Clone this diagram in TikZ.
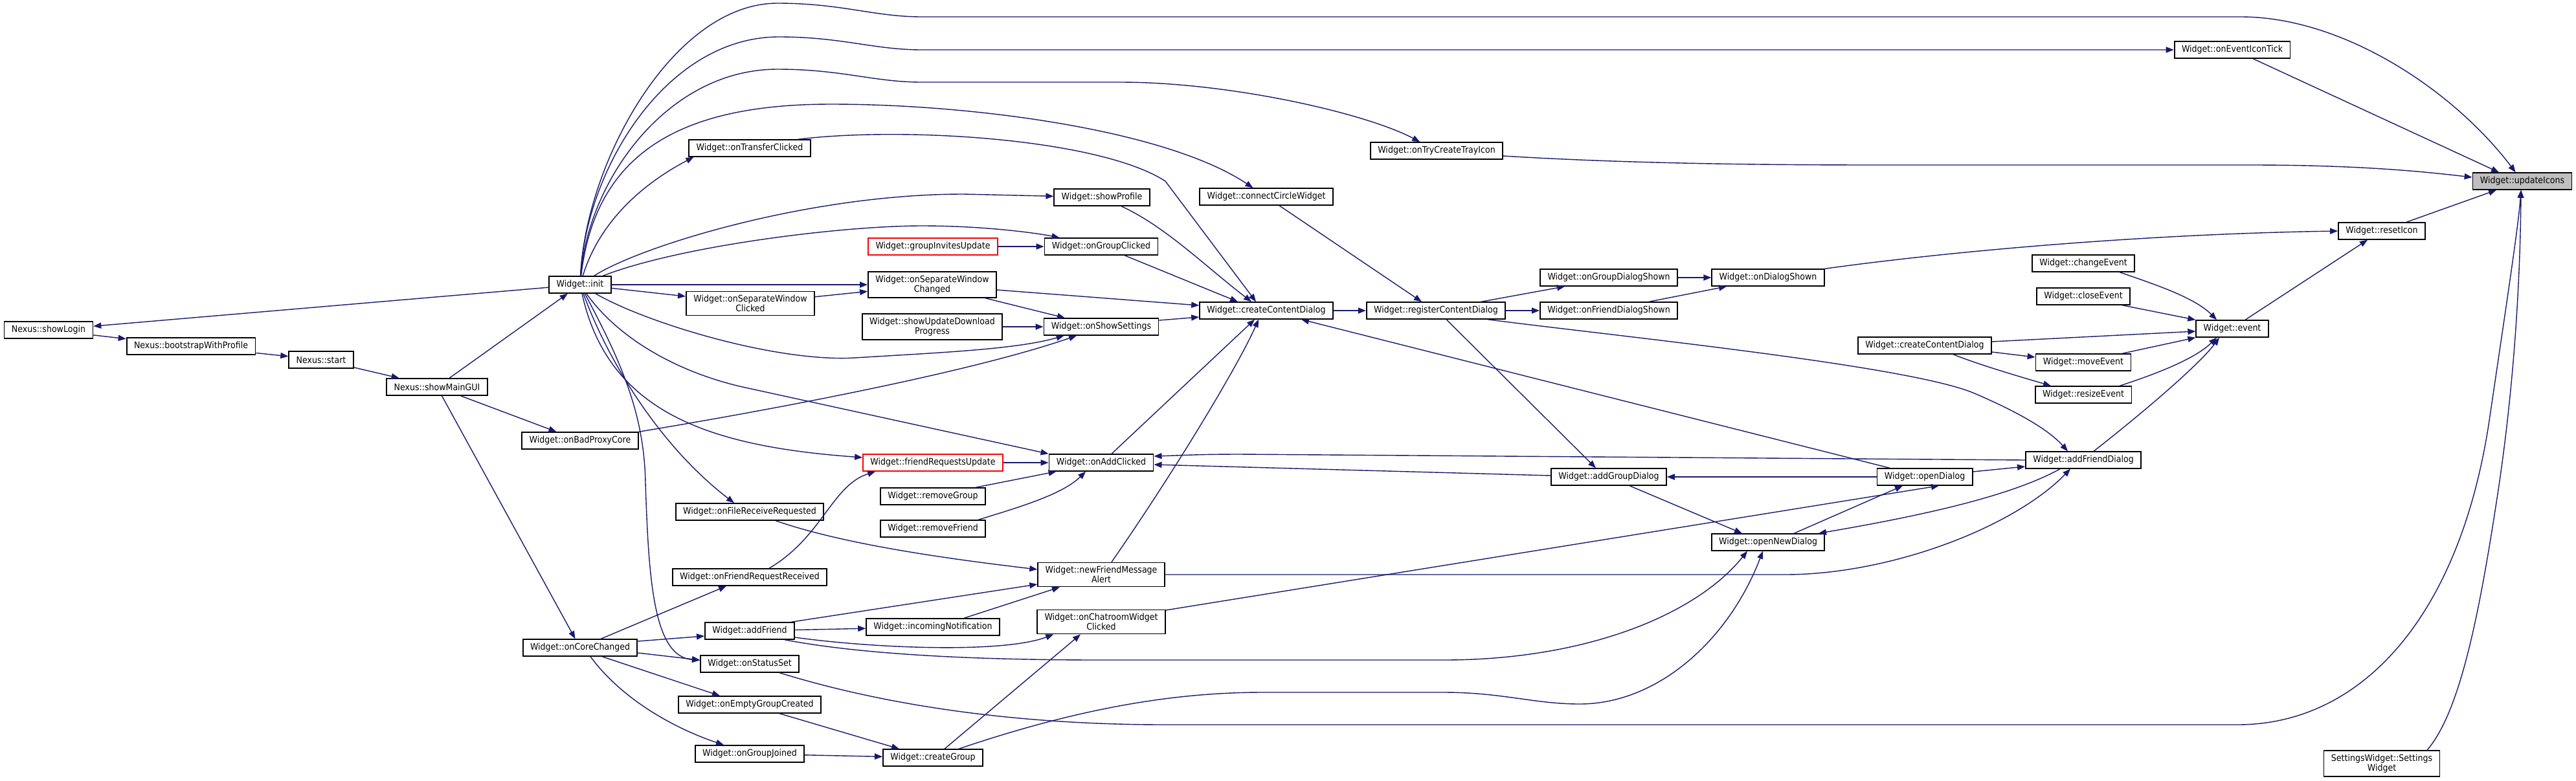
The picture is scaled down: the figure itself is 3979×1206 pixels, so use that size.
\documentclass[tikz,border=0pt]{standalone}
\usepackage{fontspec}
\setmainfont[FakeStretch=0.9]{DejaVu Sans}
\usetikzlibrary{arrows.meta}
\definecolor{edgeblue}{RGB}{25,25,112}
\definecolor{curfill}{RGB}{191,191,191}

\begin{document}
\begin{tikzpicture}[x=0.5pt, y=-0.5pt,
  every node/.style={draw, line width=0.9pt, fill=white, align=center, inner xsep=5.7pt, inner ysep=2.8pt, minimum height=12.8pt, font=\fontsize{7}{7.5}\selectfont},
  call/.style={draw=edgeblue, line width=0.7pt, -{Triangle[length=6pt,width=4.6pt]}}]
\path[use as bounding box, fill=white] (0,0) rectangle (3979,1206);
% --- Nexus chain ---
\node (showLogin) at (75,510) {Nexus::showLogin};
\node (bootstrap) at (295,535) {Nexus::bootstrapWithProfile};
\node (start) at (496,556) {Nexus::start};
\node (showMainGUI) at (675,598) {Nexus::showMainGUI};
% --- Widget, left columns ---
\node (init) at (896,440) {Widget::init};
\node (badProxy) at (896,681) {Widget::onBadProxyCore};
\node (coreChanged) at (896,1001) {Widget::onCoreChanged};
\node (transfer) at (1158,229) {Widget::onTransferClicked};
\node (sepClicked) at (1159,469) {Widget::onSeparateWindow\\Clicked};
\node (fileRecv) at (1158,791) {Widget::onFileReceiveRequested};
\node (friendRecv) at (1158,892) {Widget::onFriendRequestReceived};
\node (addFriend) at (1158,975) {Widget::addFriend};
\node (statusSet) at (1158,1026) {Widget::onStatusSet};
\node (emptyGroup) at (1158,1089) {Widget::onEmptyGroupCreated};
\node (groupJoined) at (1158,1165) {Widget::onGroupJoined};
\node[draw=red] (groupInvites) at (1441,381) {Widget::groupInvitesUpdate}; % red
\node (sepChanged) at (1440,440) {Widget::onSeparateWindow\\Changed};
\node (updDownload) at (1440,505) {Widget::showUpdateDownload\\Progress};
\node[draw=red] (friendUpd) at (1441,715) {Widget::friendRequestsUpdate}; % red
\node (removeGroup) at (1441,767) {Widget::removeGroup};
\node (removeFriend) at (1441,817) {Widget::removeFriend};
\node (incoming) at (1441,969) {Widget::incomingNotification};
\node (createGroup) at (1441,1171) {Widget::createGroup};
\node (showProfile) at (1702,305) {Widget::showProfile};
\node (groupClicked) at (1701,381) {Widget::onGroupClicked};
\node (showSettings) at (1701,505) {Widget::onShowSettings};
\node (addClicked) at (1701,715) {Widget::onAddClicked};
\node (newMsg) at (1701,888) {Widget::newFriendMessage\\Alert};
\node (chatroom) at (1701,961) {Widget::onChatroomWidget\\Clicked};
% --- Widget, right columns ---
\node (connectCircle) at (1956,304) {Widget::connectCircleWidget};
\node (createContent) at (1956,480) {Widget::createContentDialog};
\node (trayIcon) at (2219,233) {Widget::onTryCreateTrayIcon};
\node (registerContent) at (2218,480) {Widget::registerContentDialog};
\node (groupShown) at (2485,429) {Widget::onGroupDialogShown};
\node (friendShown) at (2485,480) {Widget::onFriendDialogShown};
\node (addGroupDlg) at (2485,737) {Widget::addGroupDialog};
\node (dialogShown) at (2731,429) {Widget::onDialogShown};
\node (openNewDlg) at (2731,838) {Widget::openNewDialog};
\node (openDlg) at (2973,737) {Widget::openDialog};
\node (createContent2) at (2973,534) {Widget::createContentDialog};
\node (addFriendDlg) at (3218,711) {Widget::addFriendDialog};
\node (changeEvent) at (3218,407) {Widget::changeEvent};
\node (closeEvent) at (3218,458) {Widget::closeEvent};
\node (moveEvent) at (3218,560) {Widget::moveEvent};
\node (resizeEvent) at (3218,610) {Widget::resizeEvent};
\node (event) at (3448,508) {Widget::event};
\node (iconTick) at (3448,77) {Widget::onEventIconTick};
\node (resetIcon) at (3679,357) {Widget::resetIcon};
\node[fill=curfill] (updateIcons) at (3896,280) {Widget::updateIcons}; % (current)
\node (settingsW) at (3679,1180) {SettingsWidget::Settings\\Widget};
%
% --- Left chain ---
\draw[call] (init)--(showLogin);
\draw[call] (showLogin)--(bootstrap);
\draw[call] (bootstrap)--(start);
\draw[call] (start)--(showMainGUI);
\draw[call] (showMainGUI)--(init);
\draw[call] (showMainGUI)--(badProxy);
\draw[call] (showMainGUI)--(coreChanged);
%
% --- From init ---
\draw[call] (init) .. controls (905,250) and (1040,5) .. (1201,5) .. controls (1300,5) and (1350,26) .. (1424,26)--(3461,26) .. controls (3620,26) and (3790,140) .. (updateIcons);
\draw[call] (init) .. controls (905,260) and (1030,57) .. (1203,57) .. controls (1300,57) and (1350,77) .. (1424,77)--(iconTick);
\draw[call] (init) .. controls (908,280) and (1030,107) .. (1201,107) .. controls (1300,107) and (1350,127) .. (1424,127)--(1730,127) .. controls (1900,127) and (2110,175) .. (trayIcon);
\draw[call] (init) .. controls (920,230) and (1060,161) .. (1284,161) .. controls (1500,161) and (1800,200) .. (connectCircle);
\draw[call] (init) .. controls (930,330) and (1010,275) .. ([xshift=4pt]transfer.south west);
\draw[call] (init) .. controls (990,380) and (1250,300) .. (1488,300)--(showProfile);
\draw[call] (init) .. controls (1050,380) and (1300,349) .. (1424,349) .. controls (1520,349) and (1600,360) .. ([xshift=12pt]groupClicked.north west);
\draw[call] (init)--(sepChanged);
\draw[call] (init)--(sepClicked);
\draw[call] (init) .. controls (1000,500) and (1200,560) .. (1320,553) .. controls (1450,545) and (1570,540) .. ([xshift=16pt]showSettings.south west);
\draw[call] (init) .. controls (960,530) and (1060,580) .. (1156,600)--(addClicked.north west);
\draw[call] (init) .. controls (940,640) and (1100,690) .. (friendUpd);
\draw[call] (init) .. controls (940,560) and (1020,690) .. ([xshift=-12pt]fileRecv.north);
\draw[call] (init) .. controls (960,560) and (995,640) .. (997,746) .. controls (1002,900) and (1010,1015) .. (statusSet);
%
% --- onCoreChanged ---
\draw[call] ([xshift=16pt]coreChanged.north)--([xshift=-18pt]friendRecv.south);
\draw[call] ([yshift=5pt]coreChanged.east)--([yshift=-4pt]addFriend.west);
\draw[call] ([yshift=-4pt]coreChanged.east)--([yshift=3pt]statusSet.west);
\draw[call] ([xshift=17pt]coreChanged.south)--([xshift=-23pt]emptyGroup.north);
\draw[call] ([xshift=8pt]coreChanged.south) .. controls (960,1080) and (1040,1125) .. ([xshift=-20pt]groupJoined.north);
%
% --- Middle ---
\draw[call] ([xshift=-10pt]transfer.north east) .. controls (1400,195) and (1700,215) .. (1800,280)--([xshift=-8pt]createContent.north);
\draw[call] ([xshift=15pt]showProfile.south) .. controls (1800,350) and (1860,410) .. ([xshift=-11.5pt]createContent.north);
\draw[call] ([xshift=18pt]groupClicked.south)--([xshift=-22pt]createContent.north);
\draw[call] (groupInvites)--(groupClicked);
\draw[call] (sepClicked)--(sepChanged);
\draw[call] ([yshift=-4pt]sepChanged.east)--([yshift=4pt]createContent.west);
\draw[call] ([xshift=41pt]sepChanged.south)--([xshift=-28pt]showSettings.north);
\draw[call] (updDownload)--(showSettings);
\draw[call] ([yshift=5pt]showSettings.east)--([yshift=-5pt]createContent.west);
\draw[call] (badProxy.north east) .. controls (1200,632) and (1500,575) .. ([xshift=-19pt]showSettings.south);
\draw[call] ([xshift=20pt]fileRecv.south) .. controls (1300,840) and (1450,862) .. ([yshift=4pt]newMsg.west);
\draw[call] ([xshift=15pt]friendRecv.north) .. controls (1270,830) and (1285,750) .. ([xshift=10pt]friendUpd.south west);
\draw[call] (friendUpd)--(addClicked);
\draw[call] ([xshift=33pt]removeGroup.north)--([xshift=6pt]addClicked.south west);
\draw[call] ([xshift=35pt]removeFriend.north) .. controls (1570,785) and (1640,765) .. ([xshift=-12pt]addClicked.south);
\draw[call] ([xshift=8pt]addClicked.north)--([xshift=-9pt]createContent.south);
\draw[call] ([xshift=8pt]newMsg.north) .. controls (1820,720) and (1915,560) .. ([xshift=-6pt]createContent.south);
\draw[call] ([xshift=-3pt]addFriend.north east)--([yshift=-7.5pt]newMsg.west);
\draw[call] (addFriend)--(incoming);
\draw[call] ([xshift=24pt]incoming.north)--([xshift=-32pt]newMsg.south);
\draw[call] ([yshift=-5pt]addFriend.east) .. controls (1350,1002) and (1550,1010) .. ([xshift=13pt]chatroom.south west);
\draw[call] ([xshift=-8pt]addFriend.south east) .. controls (1350,1015) and (1550,1020) .. (1700,1020)--(2230,1020) .. controls (2450,1020) and (2620,950) .. ([xshift=-16pt]openNewDlg.south);
\draw[call] ([xshift=23pt]emptyGroup.south)--([xshift=-26pt]createGroup.north);
\draw[call] (groupJoined)--(createGroup);
\draw[call] ([xshift=9pt]createGroup.north)--([xshift=-16pt]chatroom.south);
\draw[call] ([xshift=20pt]createGroup.north) .. controls (1650,1100) and (1800,1070) .. (1950,1070)--(2230,1070) .. controls (2320,1070) and (2370,1088) .. (2440,1088) .. controls (2560,1088) and (2670,990) .. ([xshift=-4pt]openNewDlg.south);
\draw[call] ([xshift=23pt]statusSet.south) .. controls (1350,1085) and (1550,1120) .. (1800,1120)--(3456,1120) .. controls (3650,1120) and (3800,950) .. (3845,650) .. controls (3870,480) and (3890,350) .. ([xshift=-1pt]updateIcons.south);
\draw[call] ([xshift=35pt]settingsW.north) .. controls (3800,1100) and (3830,950) .. (3860,750) .. controls (3885,580) and (3893,420) .. ([xshift=-1pt]updateIcons.south);
%
% --- Dialog columns ---
\draw[call] (newMsg.east)--(2757,888) .. controls (2920,888) and (3110,815) .. ([xshift=-10pt]addFriendDlg.south);
\draw[call] ([yshift=9pt]chatroom.east)--([xshift=11pt]openDlg.south);
\draw[call] (addFriendDlg.west)--(1915,702) .. controls (1850,702) and (1820,704) .. ([yshift=5pt]addClicked.east);
\draw[call] ([yshift=1pt]addGroupDlg.west)--([yshift=-1.5pt]addClicked.east);
\draw[call] (openDlg)--(addGroupDlg);
\draw[call] ([yshift=4pt]openDlg.east)--([yshift=-5pt]addFriendDlg.west);
\draw[call] ([xshift=16pt]addGroupDlg.south)--([xshift=-20pt]openNewDlg.north);
\draw[call] ([xshift=20pt]openNewDlg.north)--([xshift=-17pt]openDlg.south);
\draw[call] ([xshift=-18pt]addFriendDlg.south) .. controls (3100,770) and (2950,800) .. ([xshift=39pt]openNewDlg.north);
\draw[call] ([xshift=-27pt]openDlg.north)--([xshift=27pt]createContent.south);
\draw[call] ([xshift=8pt]registerContent.south)--([xshift=-10pt]addGroupDlg.north);
\draw[call] ([xshift=40pt]registerContent.south) .. controls (2500,520) and (2950,565) .. (3050,608) .. controls (3120,638) and (3165,665) .. ([xshift=-12pt]addFriendDlg.north);
\draw[call] (createContent)--(registerContent);
\draw[call] ([xshift=10pt]connectCircle.south)--([xshift=-11pt]registerContent.north);
\draw[call] (registerContent)--(friendShown);
\draw[call] ([xshift=35pt]registerContent.north)--([xshift=-34pt]groupShown.south);
\draw[call] (groupShown)--(dialogShown);
\draw[call] ([xshift=31pt]friendShown.north)--([xshift=-32pt]dialogShown.south);
\draw[call] (dialogShown.north east) .. controls (3000,390) and (3300,362) .. (resetIcon.west);
%
% --- Events ---
\draw[call] ([xshift=8pt]addFriendDlg.north) .. controls (3320,630) and (3400,560) .. ([xshift=-10pt]event.south);
\draw[call] ([yshift=3pt]createContent2.east)--([yshift=-2pt]event.west);
\draw[call] ([yshift=-5pt]createContent2.east)--([yshift=4pt]moveEvent.west);
\draw[call] ([xshift=22pt]createContent2.south) .. controls (3060,565) and (3130,585) .. ([xshift=-25pt]resizeEvent.north);
\draw[call] ([xshift=28pt]changeEvent.south) .. controls (3330,440) and (3390,460) .. ([xshift=-12pt]event.north);
\draw[call] ([xshift=30pt]closeEvent.south)--(event.north west);
\draw[call] ([xshift=30pt]moveEvent.north)--(event.south west);
\draw[call] ([xshift=28pt]resizeEvent.north) .. controls (3330,578) and (3390,555) .. ([xshift=-12pt]event.south);
\draw[call] ([xshift=10pt]event.north)--([xshift=-11pt]resetIcon.south);
\draw[call] ([xshift=19pt]resetIcon.north)--([xshift=-20pt]updateIcons.south);
\draw[call] ([xshift=16pt]iconTick.south)--([xshift=-18pt]updateIcons.north);
\draw[call] ([yshift=-4pt]trayIcon.east) .. controls (2500,252) and (2700,255) .. (2900,255)--(3477,255) .. controls (3650,255) and (3750,266) .. ([yshift=3pt]updateIcons.west);
%
\end{tikzpicture}
\end{document}
